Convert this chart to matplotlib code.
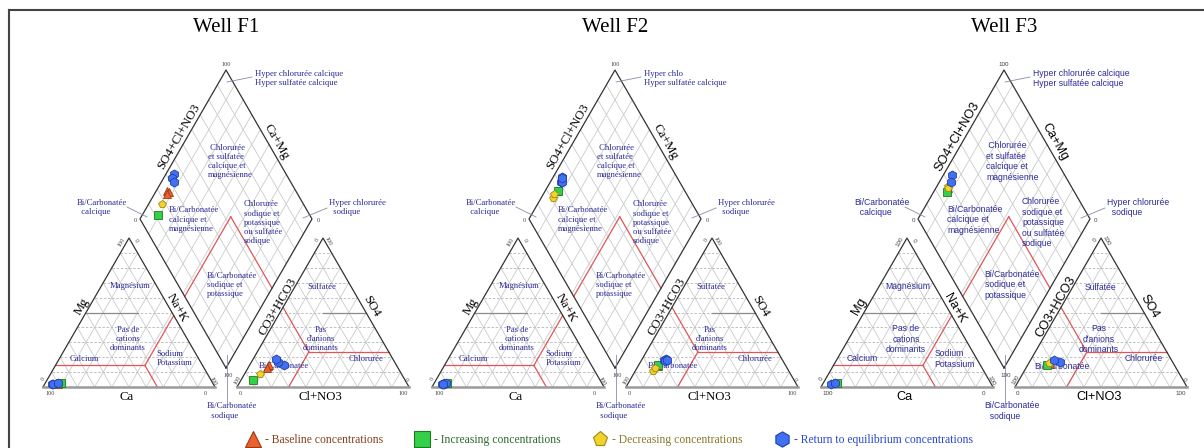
import numpy as np
import matplotlib.pyplot as plt
from matplotlib.lines import Line2D

# meq % (Ca and HCO3 are the remainders)
wells = ['Well F1', 'Well F2', 'Well F3']

f1_group = ['base', 'base', 'base', 'inc', 'dec', 'ret', 'ret', 'ret']
f1_mg = [3, 2, 3, 3, 2, 2, 2, 2.5]
f1_nak = [6, 8, 7, 9, 8, 4.5, 5, 7.5]
f1_so4 = [14, 15, 13, 5, 9, 15, 17, 18.5]
f1_cl = [11, 11, 11, 7, 9, 20, 15.5, 13.5]

f2_group = ['base', 'inc', 'dec', 'dec', 'ret', 'ret', 'ret', 'ret']
f2_mg = [3, 2.5, 2.5, 3, 2, 2, 3, 2]
f2_nak = [7, 7.5, 7, 6.5, 5, 6, 6.5, 5.5]
f2_so4 = [14, 15, 11, 12.5, 19, 18, 17.5, 18]
f2_cl = [11.5, 11, 10, 10.5, 14, 13, 14, 15]

f3_group = ['base', 'inc', 'dec', 'dec', 'ret', 'ret']
f3_mg = [2.5, 3, 2.5, 2, 2, 2.5]
f3_nak = [7, 8, 6.5, 7, 5, 7]
f3_so4 = [15.5, 15, 16, 16, 16.5, 18]
f3_cl = [12.5, 11, 12.5, 11.5, 18, 13.5]

groups = ['base', 'inc', 'dec', 'ret']
group_labels = ['- Baseline concentrations', '- Increasing concentrations',
                '- Decreasing concentrations', '- Return to equilibrium concentrations']
group_marker = {'base': '^', 'inc': 's', 'dec': 'p', 'ret': 'h'}
group_fc = {'base': '#ea6230', 'inc': '#35d04a', 'dec': '#f4d22c', 'ret': '#4170f0'}
group_ec = {'base': '#9a3a12', 'inc': '#1e7a1e', 'dec': '#a08a10', 'ret': '#1f3faa'}
group_txt = {'base': '#8b3f1c', 'inc': '#2f6b2f', 'dec': '#8a7a2a', 'ret': '#2a48d0'}

# classification boundaries (red lines)
M0, N0, C0 = 14.5, 52, 33.5      # cation: Mg, Na+K, Ca
S0, L0, A0 = 23.5, 30, 53.5      # anion: SO4, Cl, SO4+Cl

W, H = 1204, 448
PX = 1.72          # pixels per percent
S3 = np.sqrt(3) / 2
GAP = 12.8
ZONE = '#2a2a96'
GRID = '#cbcbcb'
RED = '#e05555'


def at(px, py):
    # pixel position (panel F1 reference) -> data units
    return (px - 43) / PX, (387 - py) / PX


def cat_xy(mg, nak):
    mg, nak = np.asarray(mg, float), np.asarray(nak, float)
    return nak + mg / 2, mg * S3


def an_xy(so4, cl):
    so4, cl = np.asarray(so4, float), np.asarray(cl, float)
    return 100 + GAP + cl + so4 / 2, so4 * S3


def dia_xy(nak, a):
    nak, a = np.asarray(nak, float), np.asarray(a, float)
    bx, by = 100 + GAP / 2, GAP * S3
    return bx - 0.5 * (100 - nak) + 0.5 * a, by + S3 * (100 - nak) + S3 * a


def panel(off, title, group, mg, nak, so4, cl, font, top_label):
    ax = fig.add_axes([off / W, 0, 440 / W, 1])
    ax.set_xlim(-43 / PX, 397 / PX)
    ax.set_ylim(-61 / PX, 387 / PX)
    ax.axis('off')

    # grids
    for i in range(10, 100, 10):
        j = 100 - i
        ax.plot(*cat_xy([i, i], [0, j]), color='#b5b5b5', lw=0.6, ls=(0, (3, 2)))
        ax.plot(*cat_xy([0, j], [i, i]), color=GRID, lw=0.6)
        ax.plot(*cat_xy([0, j], [j, 0]), color=GRID, lw=0.6)
        ax.plot(*an_xy([i, i], [0, j]), color='#b5b5b5', lw=0.6, ls=(0, (3, 2)))
        ax.plot(*an_xy([0, j], [i, i]), color=GRID, lw=0.6)
        ax.plot(*an_xy([0, j], [j, 0]), color=GRID, lw=0.6)
        ax.plot(*dia_xy([i, i], [0, 100]), color=GRID, lw=0.6)
        ax.plot(*dia_xy([0, 100], [i, i]), color=GRID, lw=0.6)

    # 50 % boundaries
    ax.plot(*cat_xy([50, 50], [0, 30]), color='#8a8a8a', lw=0.9)
    ax.plot(*an_xy([50, 50], [25, 50]), color='#8a8a8a', lw=0.9)

    # red classification lines
    ax.plot(*cat_xy([M0, M0], [0, N0]), color=RED, lw=0.9)
    ax.plot(*cat_xy([M0, 0], [N0, 100 - C0]), color=RED, lw=0.9)
    ax.plot(*cat_xy([M0, 100 - N0], [N0, N0]), color=RED, lw=0.9)
    ax.plot(*dia_xy([N0, N0], [0, A0]), color=RED, lw=0.9)
    ax.plot(*dia_xy([N0, 100], [A0, A0]), color=RED, lw=0.9)
    ax.plot(*an_xy([A0, S0], [0, L0]), color=RED, lw=0.9)
    ax.plot(*an_xy([S0, S0], [L0, 100 - S0]), color=RED, lw=0.9)
    ax.plot(*an_xy([S0, 0], [L0, L0]), color=RED, lw=0.9)

    # outlines
    ax.plot(*cat_xy([0, 100, 0], [0, 0, 100]), color='#333333', lw=0.9)
    ax.plot(*an_xy([0, 100, 0], [0, 0, 100]), color='#333333', lw=0.9)
    ax.plot(*cat_xy([0, 0], [0, 100]), color='#9a9a9a', lw=1.8)
    ax.plot(*an_xy([0, 0], [0, 100]), color='#9a9a9a', lw=1.8)
    ax.plot(*dia_xy([100, 0, 0, 100, 100], [0, 0, 100, 100, 0]), color='#333333', lw=0.9)

    # samples
    group = np.array(group)
    mg, nak = np.array(mg, float), np.array(nak, float)
    so4, cl = np.array(so4, float), np.array(cl, float)
    for g in groups:
        k = group == g
        ms = 6.5 if g == 'ret' else 5.5
        kw = dict(ls='none', marker=group_marker[g], ms=ms, mfc=group_fc[g],
                  mec=group_ec[g], mew=0.6, zorder=5)
        ax.plot(*cat_xy(mg[k], nak[k]), **kw)
        ax.plot(*an_xy(so4[k], cl[k]), **kw)
        ax.plot(*dia_xy(nak[k], so4[k] + cl[k]), **kw)

    # tick values
    tk = dict(fontsize=4.5, color='#444444', family=font, ha='center', va='center')
    ax.text(*at(50, 393), '100', **tk)
    ax.text(*at(205, 393), '0', **tk)
    ax.text(*at(43, 379), '0', rotation=60, **tk)
    ax.text(*at(213, 381), '100', rotation=-60, **tk)
    ax.text(*at(122, 242), '100', rotation=60, **tk)
    ax.text(*at(136, 241), '0', rotation=-60, **tk)
    ax.text(*at(240, 393), '0', **tk)
    ax.text(*at(403, 393), '100', **tk)
    ax.text(*at(238, 380), '100', rotation=60, **tk)
    ax.text(*at(406, 380), '0', rotation=-60, **tk)
    ax.text(*at(317, 240), '0', rotation=60, **tk)
    ax.text(*at(328, 241), '100', rotation=-60, **tk)
    ax.text(*at(226, 65), '100', **tk)
    ax.text(*at(135, 221), '0', **tk)
    ax.text(*at(318, 221), '0', **tk)
    ax.text(*at(228, 375), '100', **tk)

    # leader lines
    for (x1, y1), (x2, y2) in [((227, 82), (252, 77)), ((127, 207), (147, 217)),
                               ((303, 218), (327, 208)), ((226.5, 355), (226.5, 403))]:
        p1, p2 = at(x1, y1), at(x2, y2)
        ax.plot([p1[0], p2[0]], [p1[1], p2[1]], color='#8a8aa8', lw=0.6)

    # zone names
    zt = dict(fontsize=6.2, color=ZONE, family=font, va='center')
    ax.text(*at(255, 78.7), top_label, ha='left', **zt)
    ax.text(*at(208, 161.5), ' Chlorurée\net sulfatée\ncalcique et\nmagnésienne', ha='left', **zt)
    ax.text(*at(76.7, 207.5), 'Bi/Carbonatée\n  calcique', ha='left', **zt)
    ax.text(*at(169, 219.7), 'Bi/Carbonatée\ncalcique et\nmagnésienne', ha='left', **zt)
    ax.text(*at(244, 222.7), 'Chlorurée\nsodique et\npotassique\nou sulfatée\nsodique', ha='left', **zt)
    ax.text(*at(329, 207.5), 'Hyper chlorurée\n  sodique', ha='left', **zt)
    ax.text(*at(206.7, 284.8), 'Bi/Carbonatée\nsodique et\npotassique', ha='left', **zt)
    ax.text(*at(130, 286.3), 'Magnésium', ha='center', **zt)
    ax.text(*at(128, 339), 'Pas de\ncations\ndominants', ha='center', multialignment='center', **zt)
    ax.text(*at(84.3, 358.7), 'Calcium', ha='center', **zt)
    ax.text(*at(156.7, 358.8), 'Sodium\nPotassium', ha='left', **zt)
    ax.text(*at(322.3, 287.3), 'Sulfatée', ha='center', **zt)
    ax.text(*at(321, 339), 'Pas\nd\'anions\ndominants', ha='center', multialignment='center', **zt)
    ax.text(*at(365.7, 358.7), 'Chlorurée', ha='center', **zt)
    ax.text(*at(284, 366.3), 'Bi/Carbonatée', ha='center', **zt)
    ax.text(*at(206.7, 411), 'Bi/Carbonatée\n  sodique', ha='left', **zt)

    # axis names
    lt = dict(fontsize=9.2, color='black', family=font, ha='center', va='center')
    ax.text(*at(179, 136.7), 'SO4+Cl+NO3', rotation=60, **lt)
    ax.text(*at(276.7, 141.7), 'Ca+Mg', rotation=-60, **lt)
    ax.text(*at(81.7, 306.7), 'Mg', rotation=60, **lt)
    ax.text(*at(176.7, 308.3), 'Na+K', rotation=-60, **lt)
    ax.text(*at(126.7, 396.7), 'Ca', **lt)
    ax.text(*at(278.3, 306.7), 'CO3+HCO3', rotation=60, **lt)
    ax.text(*at(371.7, 306.7), 'SO4', rotation=-60, **lt)
    ax.text(*at(320.7, 396.7), 'Cl+NO3', **lt)

    ax.text(*at(226, 27), title, fontsize=15, family='Liberation Serif',
            ha='center', va='center')


fig = plt.figure(figsize=(W / 100, H / 100), dpi=100)

panel(0, wells[0], f1_group, f1_mg, f1_nak, f1_so4, f1_cl, 'Liberation Serif',
      'Hyper chlorurée calcique\nHyper sulfatée calcique')
panel(389, wells[1], f2_group, f2_mg, f2_nak, f2_so4, f2_cl, 'Liberation Serif',
      'Hyper chlo\nHyper sulfatée calcique')
panel(778, wells[2], f3_group, f3_mg, f3_nak, f3_so4, f3_cl, 'Liberation Sans',
      'Hyper chlorurée calcique\nHyper sulfatée calcique')

# frame on top and left
fig.add_artist(Line2D([9 / W, 1], [1 - 10 / H, 1 - 10 / H], color='#444444', lw=1.5))
fig.add_artist(Line2D([9 / W, 9 / W], [0, 1 - 10 / H], color='#444444', lw=1.5))

handles = [Line2D([], [], ls='none', marker=group_marker[g], ms=11, mfc=group_fc[g],
                  mec=group_ec[g], mew=0.8) for g in groups]
leg = fig.legend(handles, group_labels, loc='center', bbox_to_anchor=(610 / W, 1 - 440 / H),
                 ncol=4, frameon=False, handlelength=1.0, handletextpad=0.5,
                 columnspacing=2.9, prop={'family': 'Liberation Serif', 'size': 8.4})
for t, g in zip(leg.get_texts(), groups):
    t.set_color(group_txt[g])

fig.savefig('out.png', dpi=100)
